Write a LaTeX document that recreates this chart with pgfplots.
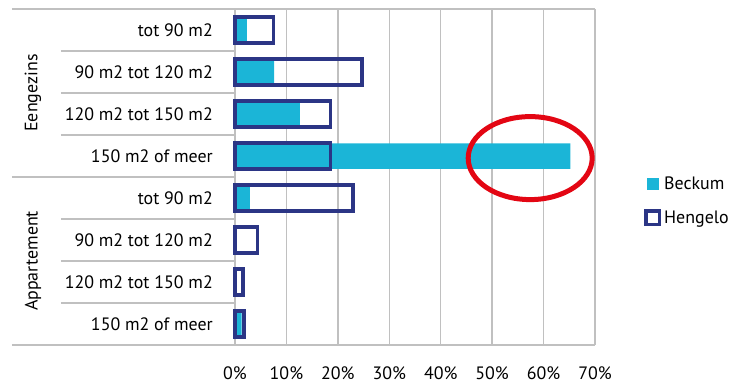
\documentclass[border=0pt]{standalone}
\usepackage{pgfplots}
\pgfplotsset{compat=1.18}
\usepackage{fontspec}
\setmainfont{PT Sans}

\definecolor{beckum}{HTML}{1BB5D7}
\definecolor{hengelo}{HTML}{2B3585}
\definecolor{gridgray}{HTML}{C0C0C0}
\definecolor{markred}{HTML}{E30613}

\begin{document}
\begin{tikzpicture}[font=\fontsize{18}{21}\selectfont]
\begin{axis}[
  scale only axis, width=360bp, height=336bp,
  xmin=0, xmax=70, ymin=-0.5, ymax=7.5,
  clip=false,
  xbar, bar width=25.5bp, bar shift=0pt,
  axis line style={draw=none},
  major tick length=0pt,
  xtick={0,10,...,70},
  xticklabel={\pgfmathprintnumber{\tick}\%},
  /pgf/number format/assume math mode=true,
  xticklabel style={anchor=base, inner sep=0pt, yshift=-34bp},
  xmajorgrids,
  grid style={gridgray, line width=1.3bp},
  ytick={0,...,7},
  yticklabels={150 m2 of meer, 120 m2 tot 150 m2, 90 m2 tot 120 m2, tot 90 m2,
               150 m2 of meer, 120 m2 tot 150 m2, 90 m2 tot 120 m2, tot 90 m2},
  yticklabel style={anchor=east, inner sep=0pt, xshift=-22bp},
  legend cell align=left,
  legend style={at={(1.136,0.427)}, anchor=west, draw=none, fill=none,
    inner sep=0pt, row sep=18bp, column sep=3bp,
    nodes={inner sep=0pt, anchor=west}},
]
% Beckum (filled)
\addplot[fill=beckum, draw=none,
  legend image code/.code={\fill[beckum] (2.7bp,-6bp) rectangle (15.2bp,6bp);}]
  coordinates {(2.3,7) (7.6,6) (12.6,5) (65.2,4) (2.9,3) (0,2) (0,1) (1.3,0)};
% Hengelo (outline only)
\addplot[fill=none, draw=hengelo, line width=3.6bp,
  legend image code/.code={\draw[hengelo, line width=3.6bp] (1.8bp,-6.7bp) rectangle (15.2bp,6.7bp);}]
  coordinates {(7.5,7) (24.7,6) (18.6,5) (18.6,4) (22.9,3) (4.4,2) (1.6,1) (1.8,0)};
\legend{Beckum, Hengelo}

% category axis lines
\draw[gridgray, line width=1.3bp] ([xshift=-223bp]axis cs:0,7.5) -- (axis cs:70,7.5);
\draw[gridgray, line width=1.3bp] ([xshift=-223bp]axis cs:0,-0.5) -- (axis cs:70,-0.5);
\draw[gridgray, line width=1.3bp] ([xshift=-223bp]axis cs:0,3.5) -- (axis cs:0,3.5);
\pgfplotsinvokeforeach{6.5,5.5,4.5,2.5,1.5,0.5}{
  \draw[gridgray, line width=1.3bp] ([xshift=-174bp]axis cs:0,#1) -- (axis cs:0,#1);
}
% group labels
\node[rotate=90] at ([xshift=-202bp]axis cs:0,5.5) {Eengezins};
\node[rotate=90] at ([xshift=-202bp]axis cs:0,1.5) {Appartement};

% highlight
\draw[markred, line width=5bp] (axis cs:57.4,3.95) ellipse [x radius=62bp, y radius=41.5bp];

\coordinate (O) at (rel axis cs:0,0);
\end{axis}
\pgfresetboundingbox
\path[use as bounding box] ([xshift=-235bp, yshift=-38bp]O) rectangle ++(731bp,383bp);
\end{tikzpicture}
\end{document}
